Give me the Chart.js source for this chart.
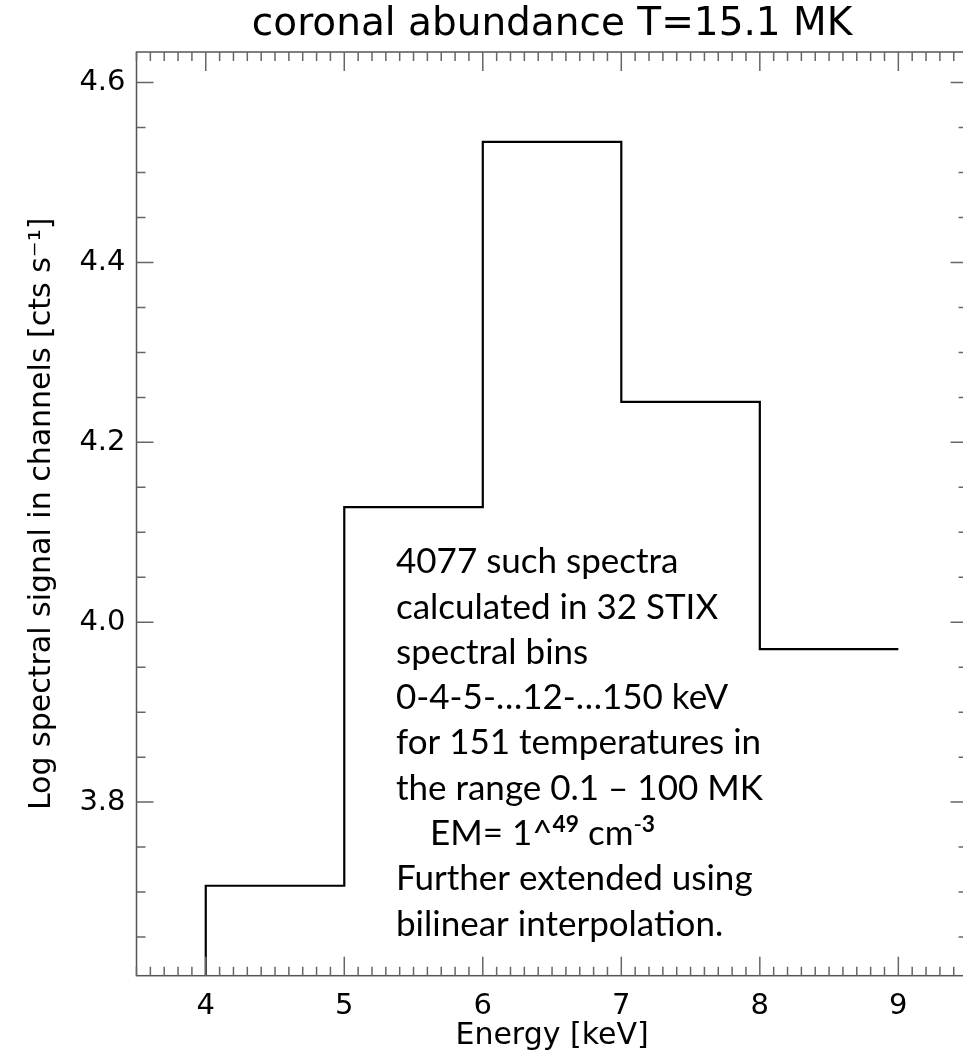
<!DOCTYPE html>
<html>
<head>
<meta charset="utf-8">
<script src="https://cdn.jsdelivr.net/npm/chart.js@4.4.0/dist/chart.umd.min.js"></script>
<style>
  html, body { margin: 0; padding: 0; background: #fff; overflow: hidden; }
  #wrap { width: 970px; height: 1055px; }
</style>
</head>
<body>
<div id="wrap"><canvas id="grafEspectro" width="970" height="1055"></canvas></div>
<script>
// dados
const binEdges = [4, 5, 6, 7, 8, 9];
const logSignal = [3.707, 4.128, 4.534, 4.245, 3.970];
const xTicks = [4, 5, 6, 7, 8, 9];
const yTicks = [3.8, 4.0, 4.2, 4.4, 4.6];
const xRange = [3.5, 9.5];
const yRange = [3.607, 4.634];

const notaLinhas = [
  "4077 such spectra",
  "calculated in 32 STIX",
  "spectral bins",
  "0-4-5-\u202612-\u2026150 keV",
  "for 151 temperatures in",
  "the range 0.1 \u2013 100 MK",
  null, // linha do EM (com expoentes)
  "Further extended using",
  "bilinear interpolation."
];

const fonteIDL = "'DejaVu Sans', sans-serif";
const fonteNota = "Lato, 'Open Sans', sans-serif";

// pontos do histograma em degraus
function montarDegraus() {
  const pts = [{ x: binEdges[0], y: yRange[0] }];
  logSignal.forEach((v, i) => pts.push({ x: binEdges[i], y: v }));
  pts.push({ x: binEdges[binEdges.length - 1], y: logSignal[logSignal.length - 1] });
  return pts;
}

// ------------------------------------------------------
// moldura e ticks no estilo IDL (para dentro, nos 4 lados)
// ------------------------------------------------------
const moldura = {
  id: "moldura",
  afterDraw(chart) {
    const { ctx, chartArea: a, scales: { x, y } } = chart;
    ctx.save();
    ctx.strokeStyle = "#555";
    ctx.lineWidth = 1.5;
    ctx.strokeRect(a.left, a.top, a.right - a.left, a.bottom - a.top);

    ctx.strokeStyle = "#666";
    ctx.beginPath();
    for (let i = 0; i <= 60; i++) {
      const v = xRange[0] + i * 0.1;
      const px = x.getPixelForValue(v);
      const major = Math.abs(v - Math.round(v)) < 1e-6;
      const len = major ? 19 : 9;
      ctx.moveTo(px, a.bottom); ctx.lineTo(px, a.bottom - len);
      ctx.moveTo(px, a.top); ctx.lineTo(px, a.top + len);
    }
    for (let i = 0; i <= 22; i++) {
      const v = 3.6 + i * 0.05;
      if (v < yRange[0] || v > yRange[1]) continue;
      const py = y.getPixelForValue(v);
      const major = yTicks.some(t => Math.abs(t - v) < 1e-6);
      const len = major ? 17 : 9;
      ctx.moveTo(a.left, py); ctx.lineTo(a.left + len, py);
      ctx.moveTo(a.right, py); ctx.lineTo(a.right - len, py);
    }
    ctx.stroke();
    ctx.restore();
  }
};

// ------------------------------------------------------
// caixa de texto explicativa
// ------------------------------------------------------
const nota = {
  id: "nota",
  afterDraw(chart) {
    const { ctx } = chart;
    const x0 = 396, y0 = 562, passo = 45.3, tam = 35;
    ctx.save();
    ctx.fillStyle = "#000";
    ctx.textBaseline = "middle";
    notaLinhas.forEach((linha, i) => {
      const yy = y0 + i * passo;
      ctx.font = `${tam}px ${fonteNota}`;
      if (linha !== null) {
        ctx.fillText(linha, x0, yy);
        return;
      }
      // "EM= 1^49 cm-3" com expoentes
      let xx = x0 + 34;
      const partes = [
        { t: "EM= 1^", sup: false, bold: false },
        { t: "49", sup: true, bold: true },
        { t: " cm", sup: false, bold: false },
        { t: "-", sup: true, bold: false },
        { t: "3", sup: true, bold: true }
      ];
      partes.forEach(p => {
        const s = p.sup ? tam * 0.65 : tam;
        ctx.font = `${p.bold ? "bold " : ""}${s}px ${fonteNota}`;
        ctx.fillText(p.t, xx, p.sup ? yy - tam * 0.25 : yy);
        xx += ctx.measureText(p.t).width;
      });
    });
    ctx.restore();
  }
};

new Chart(document.getElementById("grafEspectro"), {
  type: "line",
  data: {
    datasets: [{
      label: "coronal abundance",
      data: montarDegraus(),
      stepped: "before",
      borderColor: "#000",
      borderWidth: 2.2,
      pointRadius: 0,
      fill: false
    }]
  },
  options: {
    responsive: false,
    animation: false,
    layout: { padding: { left: 0, right: 2.4, top: 0, bottom: 0 } },
    plugins: {
      legend: { display: false },
      tooltip: { enabled: false },
      title: {
        display: true,
        text: "coronal abundance T=15.1 MK",
        fullSize: false,
        color: "#000",
        font: { family: fonteIDL, size: 39, weight: "normal", lineHeight: 1 },
        padding: { top: 5, bottom: 8 }
      }
    },
    scales: {
      x: {
        type: "linear",
        min: xRange[0],
        max: xRange[1],
        grid: { display: false, drawTicks: false },
        border: { display: false },
        afterBuildTicks: s => { s.ticks = xTicks.map(v => ({ value: v })); },
        afterFit: s => { s.height = 79.3; },
        ticks: {
          color: "#000",
          padding: 13,
          maxRotation: 0,
          font: { family: fonteIDL, size: 29 },
          callback: v => String(v)
        },
        title: {
          display: true,
          text: "Energy [keV]",
          color: "#000",
          font: { family: fonteIDL, size: 30, lineHeight: 1 },
          padding: { top: 0, bottom: 4 }
        }
      },
      y: {
        type: "linear",
        min: yRange[0],
        max: yRange[1],
        grid: { display: false, drawTicks: false },
        border: { display: false },
        afterBuildTicks: s => { s.ticks = yTicks.map(v => ({ value: v })); },
        afterFit: s => { s.width = 136.5; },
        ticks: {
          color: "#000",
          padding: 11,
          font: { family: fonteIDL, size: 29 },
          callback: v => v.toFixed(1)
        },
        title: {
          display: true,
          text: "Log spectral signal in channels [cts s\u207B\u00B9]",
          color: "#000",
          font: { family: fonteIDL, size: 30, lineHeight: 1 },
          padding: { top: 27, bottom: 0 }
        }
      }
    }
  },
  plugins: [moldura, nota]
});
</script>
</body>
</html>
